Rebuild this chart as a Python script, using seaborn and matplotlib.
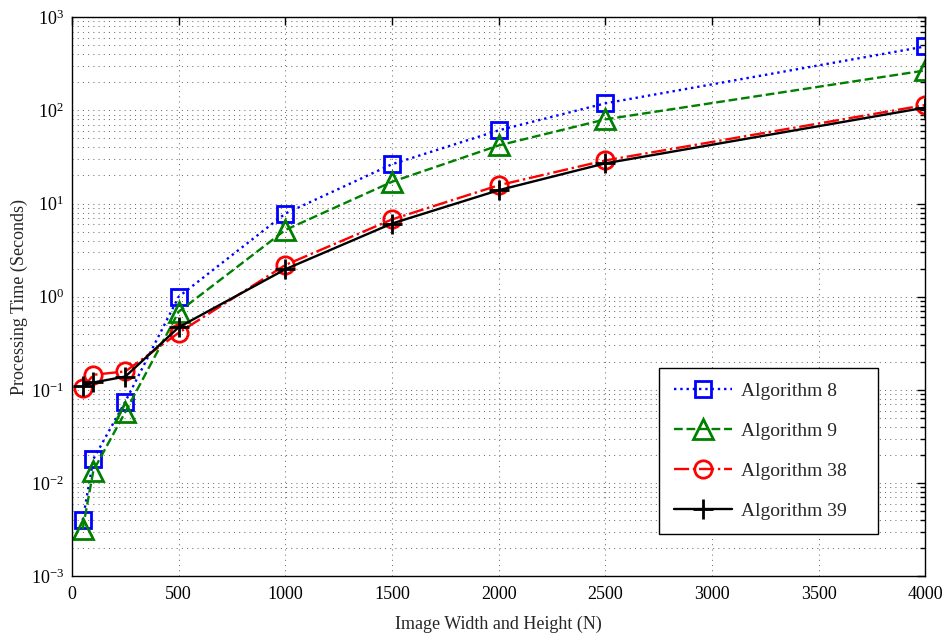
import numpy as np
import pandas as pd
import matplotlib
matplotlib.use("Agg")
import matplotlib.pyplot as plt
import seaborn as sns

# image sizes N
sizes = [50, 100, 250, 500, 1000, 1500, 2000, 2500, 4000]

# processing time in seconds
alg8 = [0.0040, 0.0181, 0.075, 1.0, 7.8, 26.4, 61, 119, 485]
alg9 = [0.0032, 0.0136, 0.058, 0.69, 5.2, 17.1, 42, 80, 268]
alg38 = [0.104, 0.145, 0.158, 0.41, 2.19, 6.75, 15.7, 29, 114]
alg39 = [0.110, 0.120, 0.139, 0.47, 1.97, 6.1, 13.9, 27, 107]

series_names = ["Algorithm 8", "Algorithm 9", "Algorithm 38", "Algorithm 39"]

sns.set_theme(style="white")
plt.rcParams["font.family"] = ["Liberation Serif", "DejaVu Serif"]
plt.rcParams["mathtext.fontset"] = "stix"

df = pd.DataFrame({"N": sizes, "Algorithm 8": alg8, "Algorithm 9": alg9,
                   "Algorithm 38": alg38, "Algorithm 39": alg39})

styles = {
    "Algorithm 8": dict(color="#0000ff", ls=":", marker="s", ms=11),
    "Algorithm 9": dict(color="#008000", ls="--", marker="^", ms=14.5),
    "Algorithm 38": dict(color="#ff0000", ls="-.", marker="o", ms=12.5),
    "Algorithm 39": dict(color="black", ls="-", marker="+", ms=14),
}

fig, ax = plt.subplots(figsize=(9.48, 6.36), dpi=100)
fig.subplots_adjust(left=0.076, right=0.976, bottom=0.094, top=0.973)

for name in series_names:
    st = styles[name]
    sns.lineplot(data=df, x="N", y=name, ax=ax, label=name,
                 color=st["color"], linestyle=st["ls"], marker=st["marker"],
                 markersize=st["ms"], markerfacecolor="none",
                 markeredgecolor=st["color"], markeredgewidth=2,
                 linewidth=1.7)

ax.set_yscale("log")
ax.set_xlim(0, 4000)
ax.set_ylim(1e-3, 1e3)
ax.set_xticks(np.arange(0, 4001, 500))
ax.yaxis.set_major_locator(matplotlib.ticker.LogLocator(base=10, numticks=10))
ax.yaxis.set_minor_locator(matplotlib.ticker.LogLocator(base=10, subs=np.arange(2, 10), numticks=20))
ax.yaxis.set_minor_formatter(matplotlib.ticker.NullFormatter())

# sparse dotted grid like the MATLAB one
ax.grid(which="major", axis="both", ls=(0, (1, 4)), color="#707070", lw=0.75)
ax.grid(which="minor", axis="y", ls=(0, (1, 4)), color="#707070", lw=0.75)

ax.tick_params(which="both", direction="in", top=True, right=True,
               colors="black", labelsize=13)
ax.tick_params(which="major", length=6, width=1)
ax.tick_params(which="minor", length=3.5, width=1)
ax.tick_params(axis="y", which="major", pad=6)
ax.tick_params(axis="x", which="major", pad=7)
for sp in ax.spines.values():
    sp.set_color("black")
    sp.set_linewidth(1)

ax.set_xlabel("Image Width and Height (N)", fontsize=13, labelpad=9)
ax.set_ylabel("Processing Time (Seconds)", fontsize=13, labelpad=2)

# wide box with empty space on the right, as in the reference
leg = ax.legend(loc="lower right", bbox_to_anchor=(0.688, 0.075, 0.257, 0.3),
                mode="expand", fontsize=14,
                frameon=True, fancybox=False, handlelength=3.0,
                labelspacing=1.15, borderpad=0.75, handletextpad=0.45,
                borderaxespad=0)
leg.get_frame().set_edgecolor("black")
leg.get_frame().set_linewidth(1)
leg.get_frame().set_alpha(1)

fig.savefig("out.png", dpi=100)
